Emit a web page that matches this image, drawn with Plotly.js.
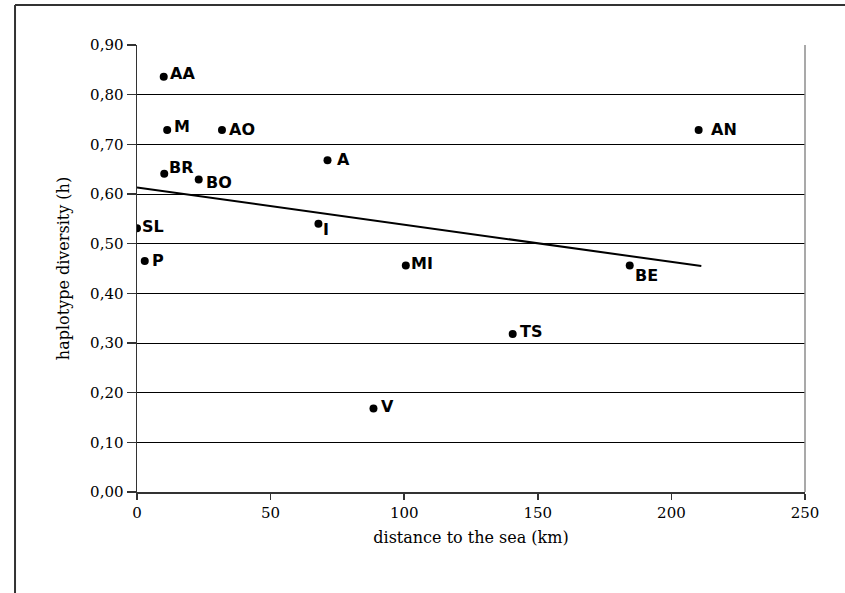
<!DOCTYPE html>
<html>
<head>
<meta charset="utf-8">
<script src="https://cdn.plot.ly/plotly-3.0.1.min.js"></script>
<style>html,body{margin:0;padding:0;background:#fff;}#chart{width:845px;height:593px;}</style>
</head>
<body>
<div id="chart"></div>
<script>
// Data
var sites = ["AA", "M", "AO", "BR", "BO", "A", "SL", "I", "P", "MI", "BE", "TS", "V", "AN"];
var distanceKm = [10, 11.3, 31.8, 10.2, 23.1, 71.3, 0, 67.9, 2.9, 100.6, 184.4, 140.6, 88.5, 210.2];
var haplotypeDiversity = [0.836, 0.729, 0.729, 0.641, 0.629, 0.668, 0.531, 0.540, 0.465, 0.456, 0.456, 0.318, 0.168, 0.729];
// Linear trend line end points (as drawn)
var trendX = [0, 211.2];
var trendY = [0.613, 0.455];
var xTickVals = [0, 50, 100, 150, 200, 250];
var yTickVals = [0, 0.1, 0.2, 0.3, 0.4, 0.5, 0.6, 0.7, 0.8, 0.9];

// label nudges in px [dx, dy(up)]
var labelNudge = {
  AA: [5, 3], M: [6, 3], AO: [6, 0], BR: [4, 6], BO: [6, -3], A: [8, 1],
  SL: [4, 2], I: [4, -6], P: [6, 1], MI: [4, 2], BE: [4, -10], TS: [6, 3],
  V: [7, 2], AN: [11, 0]
};

var annotations = sites.map(function (s, i) {
  var n = labelNudge[s];
  return {
    x: distanceKm[i], y: haplotypeDiversity[i], xref: 'x', yref: 'y',
    text: '<b>' + s + '</b>', showarrow: false,
    xanchor: 'left', yanchor: 'middle', xshift: n[0], yshift: n[1],
    borderpad: 0,
    font: {family: 'DejaVu Sans', size: 16, color: '#000'}
  };
});

var traces = [
  {
    x: trendX, y: trendY, mode: 'lines', type: 'scatter',
    line: {color: '#000', width: 2}, hoverinfo: 'skip', showlegend: false
  },
  {
    x: distanceKm, y: haplotypeDiversity, text: sites, mode: 'markers', type: 'scatter',
    marker: {color: '#000', size: 8}, showlegend: false
  }
];

var tf = {family: 'DejaVu Serif', size: 15, color: '#000'};
var titleFont = {family: 'DejaVu Serif', size: 16, color: '#000'};

var layout = {
  width: 845, height: 593,
  margin: {l: 137, r: 40, t: 45, b: 101, pad: 0},
  paper_bgcolor: '#fff', plot_bgcolor: '#fff',
  separators: ', ',
  showlegend: false,
  xaxis: {
    range: [0, 250], tickvals: xTickVals, tickformat: 'd',
    showgrid: false, zeroline: false,
    showline: true, linecolor: '#333', linewidth: 1.5,
    ticks: 'outside', ticklen: 6, tickcolor: '#333', tickwidth: 1.5,
    tickfont: tf,
    title: {text: 'distance to the sea (km)', font: titleFont, standoff: 11},
    automargin: false, fixedrange: true
  },
  yaxis: {
    range: [0, 0.9], tickvals: yTickVals, tickformat: '.2f',
    showgrid: true, gridcolor: '#000', gridwidth: 1,
    zeroline: false,
    showline: true, linecolor: '#333', linewidth: 1.5,
    ticks: 'outside', ticklen: 9, tickcolor: '#333', tickwidth: 1.5,
    tickfont: tf,
    title: {text: 'haplotype diversity (h)', font: titleFont, standoff: 16},
    automargin: false, fixedrange: true
  },
  annotations: annotations,
  shapes: [
    {type: 'line', xref: 'paper', yref: 'paper', x0: 1, x1: 1, y0: 0, y1: 1,
     line: {color: '#8c8c8c', width: 1.5}},
    {type: 'line', xref: 'paper', yref: 'paper', x0: -0.1826, x1: 1.2, y0: 1.0895, y1: 1.0895,
     line: {color: '#333', width: 2}},
    {type: 'line', xref: 'paper', yref: 'paper', x0: -0.1826, x1: -0.1826, y0: -0.3, y1: 1.0895,
     line: {color: '#333', width: 2}}
  ]
};

Plotly.newPlot('chart', traces, layout, {staticPlot: true, displayModeBar: false});
</script>
</body>
</html>
